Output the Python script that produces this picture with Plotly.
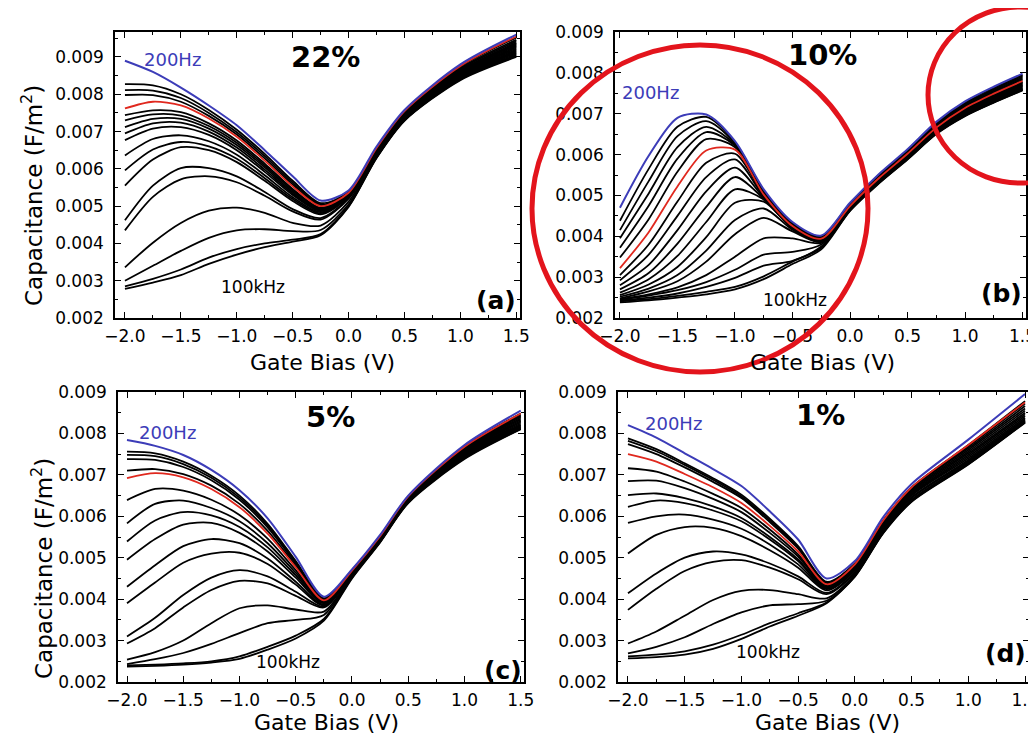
import plotly.graph_objects as go

W, H = 1036, 740
OFF = 8  # the page body margin that offsets the figure inside the browser window
FW, FH = W - OFF, H - OFF
SCALE = 1e-3  # curve values below are in units of 1e-3 F/m^2

# ---------------- Panel (a) 22% ----------------
a_bias = [-2.0, -1.75, -1.5, -1.25, -1.0, -0.75, -0.5, -0.25, 0.0, 0.25, 0.5, 1.0, 1.5]
a_200Hz = [8.90, 8.60, 8.18, 7.70, 7.17, 6.50, 5.80, 5.15, 5.42, 6.60, 7.58, 8.80, 9.60]
a_red = [7.62, 7.80, 7.70, 7.35, 6.86, 6.22, 5.53, 5.00, 5.36, 6.56, 7.55, 8.76, 9.55]
a_black = [
    [8.27, 8.24, 8.00, 7.58, 7.05, 6.40, 5.68, 5.08, 5.38, 6.56, 7.54, 8.74, 9.52],
    [8.11, 8.10, 7.90, 7.50, 6.98, 6.34, 5.63, 5.05, 5.36, 6.54, 7.52, 8.70, 9.46],
    [7.98, 7.98, 7.80, 7.42, 6.92, 6.28, 5.58, 5.02, 5.34, 6.52, 7.50, 8.67, 9.42],
    [7.44, 7.57, 7.52, 7.22, 6.76, 6.14, 5.46, 4.96, 5.32, 6.50, 7.48, 8.64, 9.38],
    [7.30, 7.46, 7.43, 7.15, 6.70, 6.09, 5.42, 4.94, 5.31, 6.49, 7.46, 8.62, 9.35],
    [7.12, 7.34, 7.34, 7.08, 6.64, 6.04, 5.38, 4.91, 5.30, 6.47, 7.44, 8.60, 9.32],
    [6.95, 7.22, 7.24, 7.00, 6.57, 5.98, 5.34, 4.89, 5.29, 6.46, 7.43, 8.58, 9.29],
    [6.77, 7.08, 7.12, 6.91, 6.50, 5.92, 5.30, 4.87, 5.28, 6.45, 7.42, 8.56, 9.26],
    [6.36, 6.80, 6.90, 6.74, 6.38, 5.83, 5.24, 4.84, 5.27, 6.44, 7.40, 8.54, 9.23],
    [5.96, 6.52, 6.72, 6.60, 6.27, 5.75, 5.19, 4.81, 5.26, 6.43, 7.39, 8.52, 9.20],
    [5.55, 6.25, 6.58, 6.50, 6.18, 5.68, 5.14, 4.78, 5.25, 6.42, 7.38, 8.50, 9.17],
    [4.62, 5.55, 6.02, 6.02, 5.80, 5.38, 4.92, 4.68, 5.22, 6.40, 7.36, 8.48, 9.14],
    [4.35, 5.25, 5.72, 5.80, 5.64, 5.28, 4.86, 4.64, 5.20, 6.38, 7.35, 8.46, 9.11],
    [3.36, 4.02, 4.55, 4.88, 4.96, 4.82, 4.55, 4.48, 5.12, 6.35, 7.33, 8.44, 9.08],
    [3.00, 3.40, 3.80, 4.15, 4.35, 4.38, 4.33, 4.36, 5.05, 6.32, 7.31, 8.42, 9.05],
    [2.85, 3.05, 3.30, 3.62, 3.85, 4.00, 4.10, 4.25, 5.00, 6.30, 7.30, 8.40, 9.02],
    [2.78, 2.95, 3.15, 3.45, 3.70, 3.90, 4.05, 4.22, 4.98, 6.29, 7.29, 8.38, 9.00],
]

# ---------------- Panel (b) 10% ----------------
b_bias = [-2.0, -1.75, -1.5, -1.25, -1.0, -0.75, -0.5, -0.25, 0.0, 0.25, 0.5, 0.75, 1.0, 1.25, 1.5]
b_200Hz = [4.70, 5.97, 6.90, 6.98, 6.33, 5.15, 4.35, 4.02, 4.82, 5.52, 6.13, 6.80, 7.30, 7.66, 7.98]
b_red = [3.22, 4.10, 5.22, 6.10, 6.12, 5.02, 4.25, 3.94, 4.74, 5.42, 6.02, 6.66, 7.14, 7.49, 7.80]
b_black = [
    [4.38, 5.65, 6.68, 6.92, 6.30, 5.12, 4.32, 4.00, 4.80, 5.50, 6.11, 6.78, 7.27, 7.63, 7.95],
    [4.15, 5.35, 6.45, 6.82, 6.27, 5.10, 4.30, 3.98, 4.79, 5.48, 6.09, 6.76, 7.24, 7.60, 7.92],
    [3.95, 5.05, 6.18, 6.68, 6.24, 5.08, 4.28, 3.97, 4.78, 5.47, 6.07, 6.73, 7.21, 7.57, 7.89],
    [3.72, 4.75, 5.90, 6.55, 6.22, 5.06, 4.27, 3.96, 4.77, 5.45, 6.05, 6.70, 7.18, 7.54, 7.86],
    [3.48, 4.42, 5.58, 6.38, 6.18, 5.04, 4.26, 3.95, 4.76, 5.44, 6.04, 6.68, 7.16, 7.51, 7.83],
    [3.05, 3.80, 4.85, 5.80, 6.02, 5.00, 4.24, 3.93, 4.74, 5.41, 6.01, 6.64, 7.12, 7.47, 7.78],
    [2.92, 3.55, 4.50, 5.45, 5.88, 4.97, 4.23, 3.92, 4.73, 5.40, 6.00, 6.63, 7.10, 7.45, 7.76],
    [2.80, 3.30, 4.15, 5.10, 5.68, 4.94, 4.22, 3.91, 4.72, 5.39, 5.98, 6.61, 7.08, 7.43, 7.74],
    [2.70, 3.10, 3.82, 4.72, 5.45, 4.92, 4.21, 3.90, 4.71, 5.38, 5.97, 6.60, 7.06, 7.41, 7.72],
    [2.62, 2.95, 3.52, 4.35, 5.15, 4.90, 4.20, 3.89, 4.70, 5.37, 5.96, 6.58, 7.04, 7.39, 7.70],
    [2.56, 2.82, 3.25, 3.98, 4.82, 4.85, 4.19, 3.88, 4.69, 5.36, 5.95, 6.57, 7.02, 7.37, 7.68],
    [2.52, 2.72, 3.05, 3.65, 4.40, 4.68, 4.16, 3.87, 4.68, 5.35, 5.94, 6.56, 7.00, 7.35, 7.66],
    [2.48, 2.65, 2.90, 3.38, 4.05, 4.45, 4.12, 3.86, 4.67, 5.34, 5.93, 6.55, 6.99, 7.33, 7.64],
    [2.46, 2.58, 2.75, 3.05, 3.50, 3.95, 3.95, 3.84, 4.66, 5.33, 5.92, 6.54, 6.98, 7.31, 7.62],
    [2.45, 2.55, 2.68, 2.88, 3.18, 3.55, 3.62, 3.80, 4.65, 5.32, 5.91, 6.53, 6.97, 7.30, 7.60],
    [2.43, 2.50, 2.60, 2.76, 2.98, 3.28, 3.40, 3.75, 4.64, 5.31, 5.90, 6.52, 6.96, 7.29, 7.59],
    [2.41, 2.46, 2.54, 2.64, 2.76, 3.02, 3.38, 3.72, 4.63, 5.30, 5.89, 6.51, 6.95, 7.28, 7.58],
    [2.38, 2.43, 2.50, 2.58, 2.70, 2.95, 3.32, 3.68, 4.62, 5.29, 5.88, 6.50, 6.94, 7.27, 7.57],
]

# ---------------- Panel (c) 5% ----------------
c_bias = [-2.0, -1.75, -1.5, -1.25, -1.0, -0.75, -0.5, -0.25, 0.0, 0.25, 0.5, 1.0, 1.5]
c_200Hz = [7.84, 7.70, 7.48, 7.12, 6.63, 5.95, 5.02, 4.06, 4.72, 5.55, 6.50, 7.72, 8.55]
c_red = [6.92, 7.04, 6.94, 6.66, 6.22, 5.58, 4.77, 3.97, 4.69, 5.52, 6.48, 7.68, 8.48]
c_black = [
    [7.56, 7.52, 7.32, 6.98, 6.50, 5.82, 4.92, 4.02, 4.70, 5.52, 6.47, 7.68, 8.48],
    [7.48, 7.45, 7.26, 6.93, 6.45, 5.78, 4.89, 4.01, 4.69, 5.51, 6.46, 7.66, 8.45],
    [7.38, 7.36, 7.19, 6.87, 6.40, 5.73, 4.86, 4.00, 4.68, 5.50, 6.45, 7.64, 8.42],
    [7.10, 7.14, 7.02, 6.74, 6.30, 5.65, 4.81, 3.98, 4.67, 5.49, 6.44, 7.62, 8.39],
    [6.39, 6.66, 6.62, 6.40, 6.03, 5.46, 4.70, 3.95, 4.66, 5.48, 6.43, 7.60, 8.36],
    [5.83, 6.30, 6.38, 6.20, 5.88, 5.35, 4.64, 3.93, 4.65, 5.47, 6.42, 7.58, 8.33],
    [5.39, 5.90, 6.10, 6.02, 5.74, 5.25, 4.58, 3.92, 4.64, 5.46, 6.41, 7.56, 8.30],
    [4.95, 5.45, 5.80, 5.84, 5.60, 5.15, 4.52, 3.90, 4.63, 5.45, 6.40, 7.54, 8.27],
    [4.30, 4.82, 5.28, 5.45, 5.35, 4.98, 4.42, 3.87, 4.62, 5.44, 6.39, 7.52, 8.24],
    [3.90, 4.40, 4.88, 5.10, 5.12, 4.85, 4.35, 3.85, 4.61, 5.43, 6.38, 7.50, 8.21],
    [3.10, 3.55, 4.10, 4.52, 4.70, 4.55, 4.18, 3.82, 4.60, 5.42, 6.37, 7.48, 8.19],
    [2.93, 3.30, 3.80, 4.22, 4.44, 4.38, 4.08, 3.80, 4.59, 5.41, 6.36, 7.46, 8.17],
    [2.54, 2.72, 3.00, 3.42, 3.78, 3.85, 3.75, 3.70, 4.57, 5.40, 6.35, 7.44, 8.15],
    [2.43, 2.55, 2.70, 2.92, 3.18, 3.42, 3.50, 3.62, 4.55, 5.39, 6.34, 7.42, 8.13],
    [2.40, 2.42, 2.45, 2.50, 2.62, 2.85, 3.12, 3.52, 4.52, 5.38, 6.33, 7.40, 8.11],
    [2.37, 2.39, 2.42, 2.47, 2.56, 2.78, 3.05, 3.48, 4.50, 5.37, 6.32, 7.38, 8.10],
]

# ---------------- Panel (d) 1% ----------------
d_bias = [-2.0, -1.75, -1.5, -1.25, -1.0, -0.75, -0.5, -0.25, 0.0, 0.25, 0.5, 1.0, 1.5]
d_200Hz = [8.20, 7.90, 7.52, 7.14, 6.73, 6.12, 5.44, 4.50, 4.92, 5.98, 6.78, 7.85, 8.95]
d_red = [7.50, 7.32, 7.02, 6.70, 6.32, 5.77, 5.15, 4.36, 4.84, 5.90, 6.70, 7.72, 8.75]
d_black = [
    [7.88, 7.62, 7.28, 6.92, 6.52, 5.94, 5.28, 4.42, 4.86, 5.90, 6.70, 7.72, 8.78],
    [7.82, 7.57, 7.24, 6.88, 6.48, 5.90, 5.25, 4.40, 4.84, 5.88, 6.68, 7.68, 8.72],
    [7.74, 7.50, 7.18, 6.83, 6.44, 5.86, 5.22, 4.38, 4.82, 5.86, 6.66, 7.64, 8.66],
    [7.16, 7.08, 6.84, 6.54, 6.20, 5.68, 5.08, 4.33, 4.80, 5.84, 6.63, 7.60, 8.60],
    [6.85, 6.86, 6.68, 6.42, 6.10, 5.60, 5.03, 4.30, 4.78, 5.82, 6.60, 7.56, 8.55],
    [6.51, 6.55, 6.44, 6.24, 5.96, 5.50, 4.96, 4.28, 4.76, 5.80, 6.57, 7.52, 8.50],
    [6.23, 6.38, 6.32, 6.14, 5.88, 5.44, 4.92, 4.26, 4.74, 5.78, 6.54, 7.48, 8.46],
    [5.84, 6.00, 6.04, 5.92, 5.70, 5.32, 4.84, 4.24, 4.72, 5.76, 6.52, 7.44, 8.42],
    [5.10, 5.55, 5.74, 5.72, 5.52, 5.18, 4.76, 4.21, 4.70, 5.74, 6.50, 7.40, 8.38],
    [4.14, 4.62, 5.00, 5.15, 5.08, 4.86, 4.55, 4.15, 4.66, 5.70, 6.46, 7.36, 8.34],
    [3.74, 4.25, 4.68, 4.90, 4.94, 4.76, 4.48, 4.12, 4.64, 5.68, 6.44, 7.33, 8.32],
    [2.93, 3.22, 3.60, 3.98, 4.20, 4.22, 4.12, 4.02, 4.60, 5.64, 6.40, 7.30, 8.30],
    [2.69, 2.85, 3.08, 3.40, 3.68, 3.85, 3.88, 3.96, 4.57, 5.62, 6.38, 7.28, 8.28],
    [2.62, 2.66, 2.74, 2.90, 3.14, 3.42, 3.66, 3.92, 4.55, 5.60, 6.36, 7.26, 8.27],
    [2.57, 2.60, 2.66, 2.80, 3.04, 3.34, 3.60, 3.90, 4.54, 5.59, 6.35, 7.25, 8.26],
]

panel_pct = ["22%", "10%", "5%", "1%"]
panel_tag = ["(a)", "(b)", "(c)", "(d)"]
x_title = "Gate Bias (V)"
y_title = "Capacitance (F/m<sup>2</sup>)"
x_tick_vals = [-2.0, -1.5, -1.0, -0.5, 0.0, 0.5, 1.0, 1.5]

BLUE = "#3c3cb8"
RED = "#e0281e"
FONT = "DejaVu Sans, Liberation Sans, Arial, sans-serif"

panels = [
    dict(bias=a_bias, blue=a_200Hz, red=a_red, black=a_black, ax="", xr=[-2.089, 1.533], yr=[0.002, 0.00967],
         dom_x=[115, 520], dom_y=[32, 318]),
    dict(bias=b_bias, blue=b_200Hz, red=b_red, black=b_black, ax="2", xr=[-2.043, 1.530], yr=[0.002, 0.009],
         dom_x=[615, 1026], dom_y=[32, 318]),
    dict(bias=c_bias, blue=c_200Hz, red=c_red, black=c_black, ax="3", xr=[-2.080, 1.529], yr=[0.002, 0.009],
         dom_x=[118, 524], dom_y=[392, 682]),
    dict(bias=d_bias, blue=d_200Hz, red=d_red, black=d_black, ax="4", xr=[-2.088, 1.535], yr=[0.002, 0.009],
         dom_x=[618, 1029], dom_y=[392, 682]),
]

fig = go.Figure()


def scaled(vals):
    return [v * SCALE for v in vals]


for p in panels:
    xa, ya = "x" + p["ax"], "y" + p["ax"]
    for curve in p["black"]:
        fig.add_trace(go.Scatter(x=p["bias"], y=scaled(curve), mode="lines", xaxis=xa, yaxis=ya,
                                 line=dict(color="black", width=1.8, shape="spline", smoothing=0.8),
                                 hoverinfo="skip"))
    fig.add_trace(go.Scatter(x=p["bias"], y=scaled(p["red"]), mode="lines", xaxis=xa, yaxis=ya,
                             line=dict(color=RED, width=1.8, shape="spline", smoothing=0.8), hoverinfo="skip"))
    fig.add_trace(go.Scatter(x=p["bias"], y=scaled(p["blue"]), mode="lines", xaxis=xa, yaxis=ya,
                             line=dict(color=BLUE, width=2.0, shape="spline", smoothing=0.8), hoverinfo="skip"))


def px_x(v):
    # window pixel -> paper fraction
    return (v - OFF) / FW


def px_y(v):
    return 1 - (v - OFF) / FH


layout = dict(width=FW, height=FH, autosize=False,
              margin=dict(l=0, r=0, t=0, b=0, pad=0, autoexpand=False), paper_bgcolor="white",
              plot_bgcolor="white", showlegend=False, font=dict(family=FONT, color="black"))

for p in panels:
    k = p["ax"]
    xkey, ykey = "xaxis" + k, "yaxis" + k
    layout[xkey] = dict(
        domain=[px_x(p["dom_x"][0]), px_x(p["dom_x"][1])], range=p["xr"], anchor="y" + k,
        tickmode="array", tickvals=x_tick_vals, tickformat=".1f", automargin=False,
        ticklabeloverflow="allow",
        showline=True, linecolor="black", linewidth=1.6, mirror="ticks",
        ticks="inside", ticklen=6, tickwidth=1.4, tickcolor="black", ticklabelstandoff=2,
        minor=dict(ticks="inside", ticklen=3, tickwidth=1.2, tickcolor="black", dtick=0.25, tick0=-2.0),
        showgrid=False, zeroline=False, tickfont=dict(size=17, family=FONT, color="black"),
        fixedrange=True,
    )
    layout[ykey] = dict(
        domain=[px_y(p["dom_y"][1]), px_y(p["dom_y"][0])], range=p["yr"], anchor="x" + k,
        tickmode="linear", tick0=0.002, dtick=0.001, tickformat=".3f", automargin=False,
        ticklabeloverflow="allow",
        showline=True, linecolor="black", linewidth=1.6, mirror="ticks",
        ticks="inside", ticklen=6, tickwidth=1.4, tickcolor="black", ticklabelstandoff=6,
        minor=dict(ticks="inside", ticklen=3, tickwidth=1.2, tickcolor="black", dtick=0.0005),
        showgrid=False, zeroline=False, tickfont=dict(size=17, family=FONT, color="black"),
        fixedrange=True,
    )

annotations = []


def note(text, x, y, size, color="black", bold=False, angle=0, xanchor="center", yanchor="middle"):
    t = f"<b>{text}</b>" if bold else text
    annotations.append(dict(text=t, x=px_x(x), y=px_y(y), xref="paper", yref="paper", showarrow=False,
                            font=dict(size=size, color=color, family=FONT), textangle=angle,
                            xanchor=xanchor, yanchor=yanchor))


# panel texts (pixel positions in the window)
pct_pos = [(325, 57), (822, 55), (330, 417), (820, 415)]
tag_pos = [(518, 300), (1024, 293), (524, 670), (1028, 653)]
hz200_pos = [(172, 59), (650, 92), (167, 432), (673, 423)]
khz_pos = [(253, 287), (795, 300), (288, 662), (768, 652)]
xt_pos = [(322, 362), (822, 362), (326, 722), (827, 722)]
yt_pos = [(32, 196), (42, 569)]

for i in range(4):
    note(panel_pct[i], *pct_pos[i], size=29, bold=True)
    note(panel_tag[i], *tag_pos[i], size=25, bold=True, xanchor="right")
    note("200Hz", *hz200_pos[i], size=18, color=BLUE)
    note("100kHz", *khz_pos[i], size=17)
    note(x_title, *xt_pos[i], size=22)
for pos in yt_pos:
    note(y_title, *pos, size=23, angle=-90)

layout["annotations"] = annotations

# red hand-drawn circles over panel (b)
layout["shapes"] = [
    dict(type="circle", xref="paper", yref="paper", x0=px_x(532), x1=px_x(868), y0=px_y(372), y1=px_y(45),
         line=dict(color="#e3141c", width=5), layer="above"),
    dict(type="circle", xref="paper", yref="paper", x0=px_x(928), x1=px_x(1112), y0=px_y(183), y1=px_y(7),
         line=dict(color="#e3141c", width=5), layer="above"),
]

fig.update_layout(**layout)
fig.write_html("out.html")
